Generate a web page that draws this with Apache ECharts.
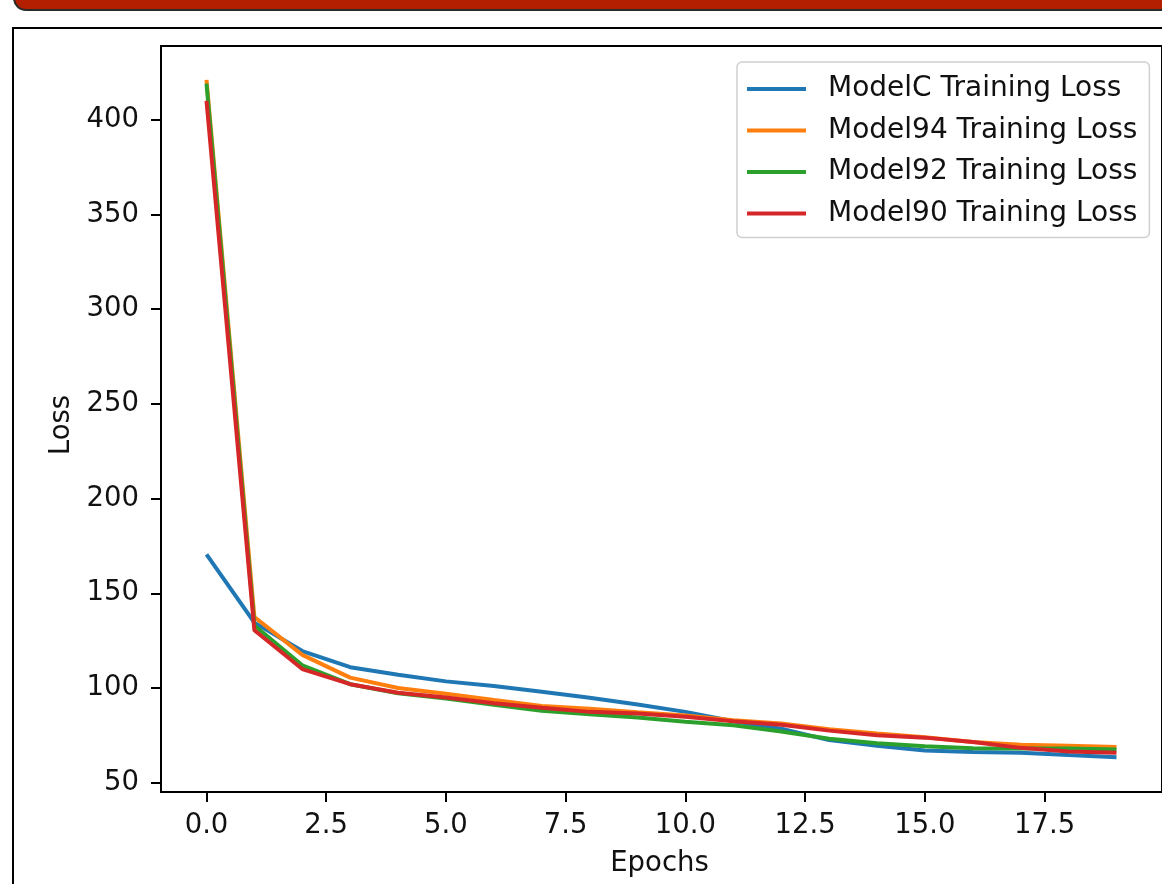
<!DOCTYPE html>
<html>
<head>
<meta charset="utf-8">
<title>Training Loss</title>
<script src="https://cdn.jsdelivr.net/npm/echarts@6/dist/echarts.min.js"></script>
<style>
	html, body { margin: 0; padding: 0; background: #fff; }
	#div_loss { width: 1162px; height: 884px; }
</style>
</head>
<body>
<div id="div_loss"></div>
<script>
// epochs on the x axis
var epochs = [0, 1, 2, 3, 4, 5, 6, 7, 8, 9, 10, 11, 12, 13, 14, 15, 16, 17, 18, 19];

// loss per epoch
var lossModelC = [170.5, 134.5, 119.5, 111, 107, 103.5, 101, 98, 94.8, 91.3, 87.4, 82.5, 78.5, 72.5, 69.5, 67, 66.2, 65.8, 64.6, 63.5];
var lossModel94 = [421, 137.5, 117.5, 105.5, 100, 97, 93.7, 90.5, 89, 87.2, 85.5, 83, 81.3, 78.2, 76, 74, 71.5, 70, 69.5, 68.8];
var lossModel92 = [419, 133, 112, 102, 97.2, 94.5, 91.2, 88, 86.2, 84.4, 82.2, 80.3, 77, 73.2, 70.8, 69.3, 68.2, 68, 68, 67.5];
var lossModel90 = [410, 130.5, 110, 102, 97.5, 95, 92, 89.6, 87.4, 86.5, 84.8, 82.5, 80.6, 77.5, 75, 73.8, 71.5, 68.4, 66.5, 65.8];

var seriesNames = ['ModelC Training Loss', 'Model94 Training Loss', 'Model92 Training Loss', 'Model90 Training Loss'];
var seriesColors = ['#1f77b4', '#ff7f0e', '#2ca02c', '#d62728'];

// tick labels
var xTicks = [0, 2.5, 5, 7.5, 10, 12.5, 15, 17.5];
var yTicks = [50, 100, 150, 200, 250, 300, 350, 400];

var FONT = 'DejaVu Sans';

function pairs(values) {
	var out = [];
	for (var i = 0; i < epochs.length; i++) {
		out.push([epochs[i], values[i]]);
	}
	return out;
}

var allLoss = [lossModelC, lossModel94, lossModel92, lossModel90];
var series = [];
for (var k = 0; k < allLoss.length; k++) {
	series.push({
		name: seriesNames[k],
		type: 'line',
		data: pairs(allLoss[k]),
		showSymbol: false,
		color: seriesColors[k],
		lineStyle: { width: 4, color: seriesColors[k] },
		emphasis: { disabled: true }
	});
}

var _chart = echarts.init(document.getElementById('div_loss'));
_chart.setOption({
	animation: false,
	backgroundColor: '#fff',
	graphic: [
		{
			// red header strip of the notebook cell
			type: 'rect',
			shape: { x: 14, y: -20, width: 1200, height: 30, r: [0, 0, 0, 12] },
			style: { fill: '#b31f00', stroke: '#2a2a2a', lineWidth: 2 },
			z: 10
		},
		{
			// output frame
			type: 'rect',
			shape: { x: 13, y: 28, width: 1200, height: 900 },
			style: { fill: 'none', stroke: '#000', lineWidth: 2 },
			z: 10
		}
	],
	grid: {
		left: 161,
		top: 46,
		width: 1002,
		height: 746,
		show: true,
		borderColor: '#000',
		borderWidth: 2,
		backgroundColor: '#fff'
	},
	legend: {
		orient: 'vertical',
		left: 737,
		top: 62,
		padding: [13, 12, 10, 10],
		icon: 'rect',
		itemWidth: 59,
		itemHeight: 4,
		itemGap: 13.5,
		backgroundColor: 'rgba(255,255,255,0.8)',
		borderColor: '#d0d0d0',
		borderWidth: 1.5,
		borderRadius: 5,
		data: seriesNames,
		textStyle: {
			fontFamily: FONT,
			fontSize: 28,
			lineHeight: 28,
			color: '#111',
			padding: [0, 0, 0, 17]
		}
	},
	xAxis: {
		type: 'value',
		min: -0.95,
		max: 19.95,
		name: 'Epochs',
		nameLocation: 'middle',
		nameGap: 58,
		nameTextStyle: { fontFamily: FONT, fontSize: 27.5, color: '#111', padding: [0, 4, 0, 0] },
		axisLine: { show: true, onZero: false, lineStyle: { color: '#000', width: 2 } },
		axisTick: { show: true, length: 10, lineStyle: { color: '#000', width: 2 }, customValues: xTicks },
		axisLabel: {
			fontFamily: FONT,
			fontSize: 27.5,
			color: '#111',
			margin: 20,
			customValues: xTicks,
			formatter: function(v) { return v.toFixed(1); }
		},
		splitLine: { show: false }
	},
	yAxis: {
		type: 'value',
		min: 45.1,
		max: 438.9,
		name: 'Loss',
		nameLocation: 'middle',
		nameGap: 85,
		// matplotlib centres the label a little lower
		nameTextStyle: { fontFamily: FONT, fontSize: 27.5, color: '#111', padding: [0, 12, 0, 0] },
		axisLine: { show: true, onZero: false, lineStyle: { color: '#000', width: 2 } },
		axisTick: { show: true, length: 10, lineStyle: { color: '#000', width: 2 }, customValues: yTicks },
		axisLabel: {
			fontFamily: FONT,
			fontSize: 27.5,
			color: '#111',
			margin: 22,
			customValues: yTicks
		},
		splitLine: { show: false }
	},
	series: series
});
</script>
</body>
</html>
